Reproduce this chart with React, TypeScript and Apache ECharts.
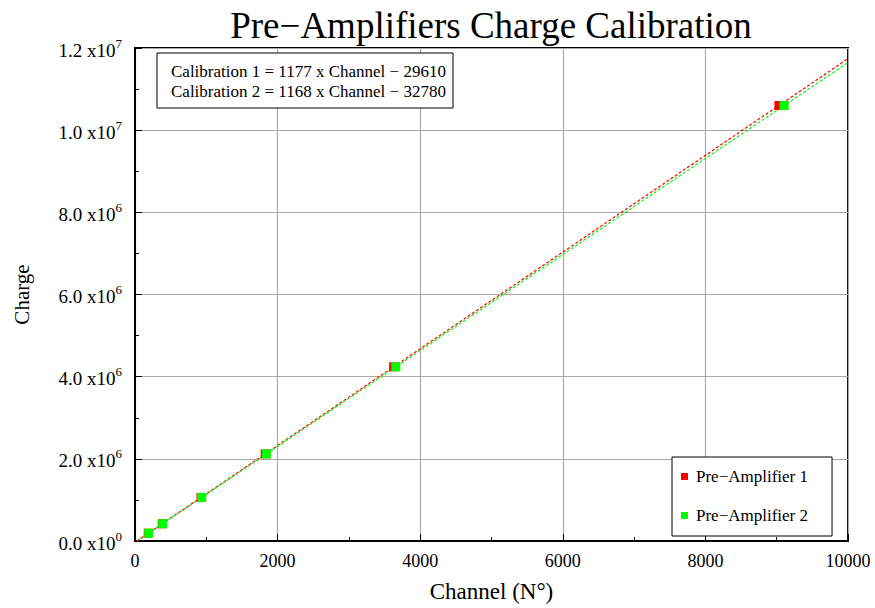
import React, { useEffect, useRef } from "react";
import * as echarts from "echarts";

const titleText = "Pre\u2212Amplifiers Charge Calibration";
const seriesNames = ["Pre\u2212Amplifier 1", "Pre\u2212Amplifier 2"];
const seriesColors = ["#ff0000", "#00ff00"];

const amp1Channel = [186, 382, 926, 1826, 3627, 9031];
const amp1Charge = [190000, 420000, 1060000, 2120000, 4240000, 10600000];
const amp2Channel = [192, 388, 936, 1843, 3658, 9104];
const amp2Charge = [190000, 420000, 1060000, 2120000, 4240000, 10600000];

const fit1Channel = [25, 10000];
const fit1Charge = [0, 11740390];
const fit2Channel = [28, 10000];
const fit2Charge = [0, 11647220];

const calibrationLines = [
  "Calibration 1 = 1177 x Channel \u2212 29610",
  "Calibration 2 = 1168 x Channel \u2212 32780",
];

const yTickMantissa = ["0.0", "2.0", "4.0", "6.0", "8.0", "1.0", "1.2"];
const yTickExponent = ["0", "6", "6", "6", "6", "7", "7"];
const xTickLabels = ["0", "2000", "4000", "6000", "8000", "10000"];

const FONT = '"Liberation Serif", "DejaVu Serif", serif';

const zip = (a: number[], b: number[]) => a.map((v, i) => [v, b[i]]);

export default function App() {
  const ref = useRef<HTMLDivElement>(null);
  useEffect(() => {
    if (!ref.current) return;
    const chart = echarts.init(ref.current, undefined, { renderer: "svg" });
    chart.setOption({
      animation: false,
      backgroundColor: "#ffffff",
      grid: {
        left: 135,
        right: 27,
        top: 48,
        bottom: 66,
        show: true,
        borderColor: "#000",
        borderWidth: 2,
        containLabel: false,
      },
      legend: {
        data: seriesNames,
        orient: "vertical",
        left: 672,
        top: 457,
        backgroundColor: "#fff",
        borderColor: "#000",
        borderWidth: 1,
        padding: [11, 24, 12, 9],
        itemGap: 22,
        itemWidth: 7,
        itemHeight: 7,
        icon: "rect",
        textStyle: { fontFamily: FONT, fontSize: 17, color: "#000", padding: [0, 0, 0, 3] },
      },
      xAxis: {
        type: "value",
        min: 0,
        max: 10000,
        interval: 2000,
        name: "Channel (N\u00b0)",
        nameLocation: "middle",
        nameGap: 39,
        nameTextStyle: { fontFamily: FONT, fontSize: 23, color: "#000" },
        axisLine: { show: true, lineStyle: { color: "#000", width: 2 } },
        axisTick: { show: true, inside: true, length: 7, lineStyle: { color: "#000", width: 1 } },
        minorTick: { show: true, splitNumber: 2, length: 4, lineStyle: { color: "#000", width: 1 } },
        splitLine: { show: true, lineStyle: { color: "#a8a8a8", width: 1.2 } },
        axisLabel: {
          margin: 11,
          fontFamily: FONT,
          fontSize: 18,
          color: "#000",
          formatter: (v: number) => xTickLabels[Math.round(v / 2000)] ?? "",
        },
      },
      yAxis: {
        type: "value",
        min: 0,
        max: 12000000,
        interval: 2000000,
        name: "Charge",
        nameLocation: "middle",
        nameGap: 103,
        nameTextStyle: { fontFamily: FONT, fontSize: 21, color: "#000" },
        axisLine: { show: true, lineStyle: { color: "#000", width: 2 } },
        axisTick: { show: true, inside: true, length: 7, lineStyle: { color: "#000", width: 1 } },
        minorTick: { show: true, splitNumber: 2, length: 4, lineStyle: { color: "#000", width: 1 } },
        splitLine: { show: true, lineStyle: { color: "#a8a8a8", width: 1.2 } },
        axisLabel: {
          margin: 13,
          color: "#000",
          formatter: (v: number) => {
            const i = Math.round(v / 2000000);
            return "{b|" + yTickMantissa[i] + " x10}{s|" + yTickExponent[i] + "}";
          },
          rich: {
            b: { fontFamily: FONT, fontSize: 19, color: "#000", lineHeight: 23, verticalAlign: "bottom" },
            s: { fontFamily: FONT, fontSize: 13, color: "#000", lineHeight: 23, verticalAlign: "top" },
          },
        },
      },
      series: [
        {
          name: "fit1",
          type: "line",
          data: zip(fit1Channel, fit1Charge),
          showSymbol: false,
          symbol: "none",
          lineStyle: { color: seriesColors[0], width: 1.2, type: [3, 2] },
          z: 3,
        },
        {
          name: "fit2",
          type: "line",
          data: zip(fit2Channel, fit2Charge),
          showSymbol: false,
          symbol: "none",
          lineStyle: { color: seriesColors[1], width: 1.2, type: [3, 2], dashOffset: 2 },
          z: 3,
        },
        {
          name: seriesNames[0],
          type: "scatter",
          data: zip(amp1Channel, amp1Charge),
          symbol: "rect",
          symbolSize: 9,
          itemStyle: { color: seriesColors[0], opacity: 1 },
          z: 5,
        },
        {
          name: seriesNames[1],
          type: "scatter",
          data: zip(amp2Channel, amp2Charge),
          symbol: "rect",
          symbolSize: 9,
          itemStyle: { color: seriesColors[1], opacity: 1 },
          z: 6,
        },
      ],
      graphic: [
        {
          type: "text",
          x: 491,
          y: 7,
          style: {
            text: titleText,
            font: "37px " + FONT,
            fill: "#000",
            textAlign: "center",
            textVerticalAlign: "top",
          },
          z: 101,
        },
        {
          type: "rect",
          shape: { x: 157, y: 53, width: 296, height: 55 },
          style: { fill: "#fff", stroke: "#000", lineWidth: 1 },
          z: 100,
        },
        {
          type: "text",
          x: 171,
          y: 63,
          style: { text: calibrationLines[0], font: "17px " + FONT, fill: "#000" },
          z: 101,
        },
        {
          type: "text",
          x: 171,
          y: 83,
          style: { text: calibrationLines[1], font: "17px " + FONT, fill: "#000" },
          z: 101,
        },
      ],
    });
    return () => chart.dispose();
  }, []);
  return <div ref={ref} style={{ width: 875, height: 608, position: "absolute", left: 0, top: 0 }} />;
}
